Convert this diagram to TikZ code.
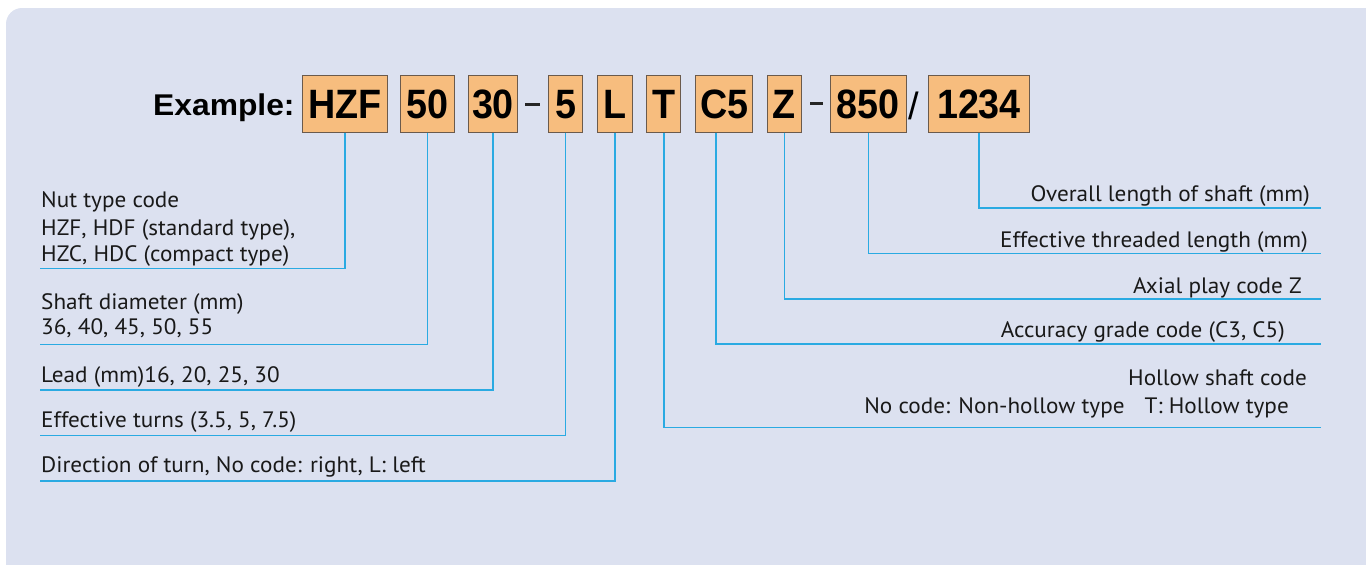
\documentclass[tikz,border=0pt]{standalone}
\usepackage{fontspec}
\setmainfont{PT Sans}[FakeStretch=1.04]
\newfontfamily\titlefont[FakeStretch=1.06]{Liberation Sans}
\newfontfamily\slashfont{Liberation Sans}
\newfontfamily\boxfont[FakeStretch=0.92]{Liberation Sans}
\definecolor{bgc}{HTML}{DCE1F0}
\definecolor{boxfill}{HTML}{F7BD7E}
\definecolor{boxline}{HTML}{6B5A4C}
\definecolor{conn}{HTML}{2AAAE2}
\tikzset{
  code/.style={draw=boxline, line width=1pt, fill=boxfill, inner sep=0pt,
    minimum height=57pt, text height=29pt, text depth=0pt,
    font=\boxfont\bfseries\fontsize{41}{41}\selectfont},
  lbl/.style={inner sep=0pt, anchor=base west, font=\fontsize{22.3}{22.3}\selectfont, text=black!90},
  rlbl/.style={inner sep=0pt, anchor=base east, font=\fontsize{22.3}{22.3}\selectfont, text=black!90},
  conline/.style={draw=conn, line width=1.6pt},
  sep/.style={fill=black!85, inner sep=0pt, minimum width=15pt, minimum height=3pt}
}
\begin{document}
\begin{tikzpicture}[x=1pt,y=-1pt]
\useasboundingbox (0,0) rectangle (1366,565);
\fill[bgc, rounded corners=16pt] (6,8) rectangle (1380,580);
% title
\node[inner sep=0pt, anchor=base west, font=\titlefont\bfseries\fontsize{30}{30}\selectfont] (title) at (153,115) {Example:};
% code boxes
\node[code, minimum width=85pt]   (hzf) at (344.8,103.5) {HZF};
\node[code, minimum width=54.4pt] (d50) at (427.5,103.5) {50};
\node[code, minimum width=49.4pt] (d30) at (493,103.5) {30};
\node[sep] (s1) at (532.8,104) {};
\node[code, minimum width=34.4pt] (d5) at (565.5,103.5) {5};
\node[code, minimum width=35pt]   (cl) at (614.8,103.5) {L};
\node[code, minimum width=34.3pt] (ct) at (663.8,103.5) {T};
\node[code, minimum width=57pt]   (c5) at (724.2,103.5) {C5};
\node[code, minimum width=34.4pt] (cz) at (784.5,103.5) {Z};
\node[sep, minimum width=13pt] (s2) at (816.4,103.5) {};
\node[code, minimum width=75.7pt] (d850) at (868.3,103.5) {850};
\node[inner sep=0pt, anchor=base, font=\slashfont\fontsize{38}{38}\selectfont] (slash) at (913.5,119.5) {/};
\node[code, minimum width=100.6pt] (d1234) at (979,103.5) {1234};
% left labels
\node[lbl] (nut1) at (41,207.5) {Nut type code};
\node[lbl] (nut2) at (41,235) {HZF, HDF (standard type),};
\node[lbl] (nut3) at (41,261.5) {HZC, HDC (compact type)};
\node[lbl] (sh1) at (41,309) {Shaft diameter (mm)};
\node[lbl] (sh2) at (41,334.5) {36, 40, 45, 50, 55};
\node[lbl] (lead) at (41,382.7) {Lead (mm)16, 20, 25, 30};
\node[lbl] (turns) at (41,427.7) {Effective turns (3.5, 5, 7.5)};
\node[lbl] (dirn) at (41,472.7) {Direction of turn, No code: right, L: left};
% right labels
\node[rlbl] (ovl) at (1310,201.5) {Overall length of shaft (mm)};
\node[rlbl] (eff) at (1308,247) {Effective threaded length (mm)};
\node[rlbl] (axp) at (1302,293) {Axial play code Z};
\node[rlbl] (acc) at (1285,337) {Accuracy grade code (C3, C5)};
\node[rlbl] (hol1) at (1307,385) {Hollow shaft code};
\node[rlbl] (hol2) at (1289,413) {No code: Non-hollow type\hspace{0.9em}T: Hollow type};
% line end coordinates
\coordinate (eHZF) at (40,268.5);
\coordinate (e50) at (40,344.3);
\coordinate (e30) at (40,389.7);
\coordinate (e5) at (40,435.3);
\coordinate (eL) at (40,480.7);
\coordinate (eT) at (1321,427.3);
\coordinate (eC5) at (1321,344);
\coordinate (eZ) at (1321,298.7);
\coordinate (e850) at (1321,253.3);
\coordinate (e1234) at (1321,207.7);
% connectors
\draw[conline] (hzf.south) |- (eHZF);
\draw[conline] (d50.south) |- (e50);
\draw[conline] (d30.south) |- (e30);
\draw[conline] (d5.south) |- (e5);
\draw[conline] (cl.south) |- (eL);
\draw[conline] (ct.south) |- (eT);
\draw[conline] ([xshift=-8pt]c5.south) |- (eC5);
\draw[conline] (cz.south) |- (eZ);
\draw[conline] (d850.south) |- (e850);
\draw[conline] (d1234.south) |- (e1234);
\end{tikzpicture}
\end{document}
